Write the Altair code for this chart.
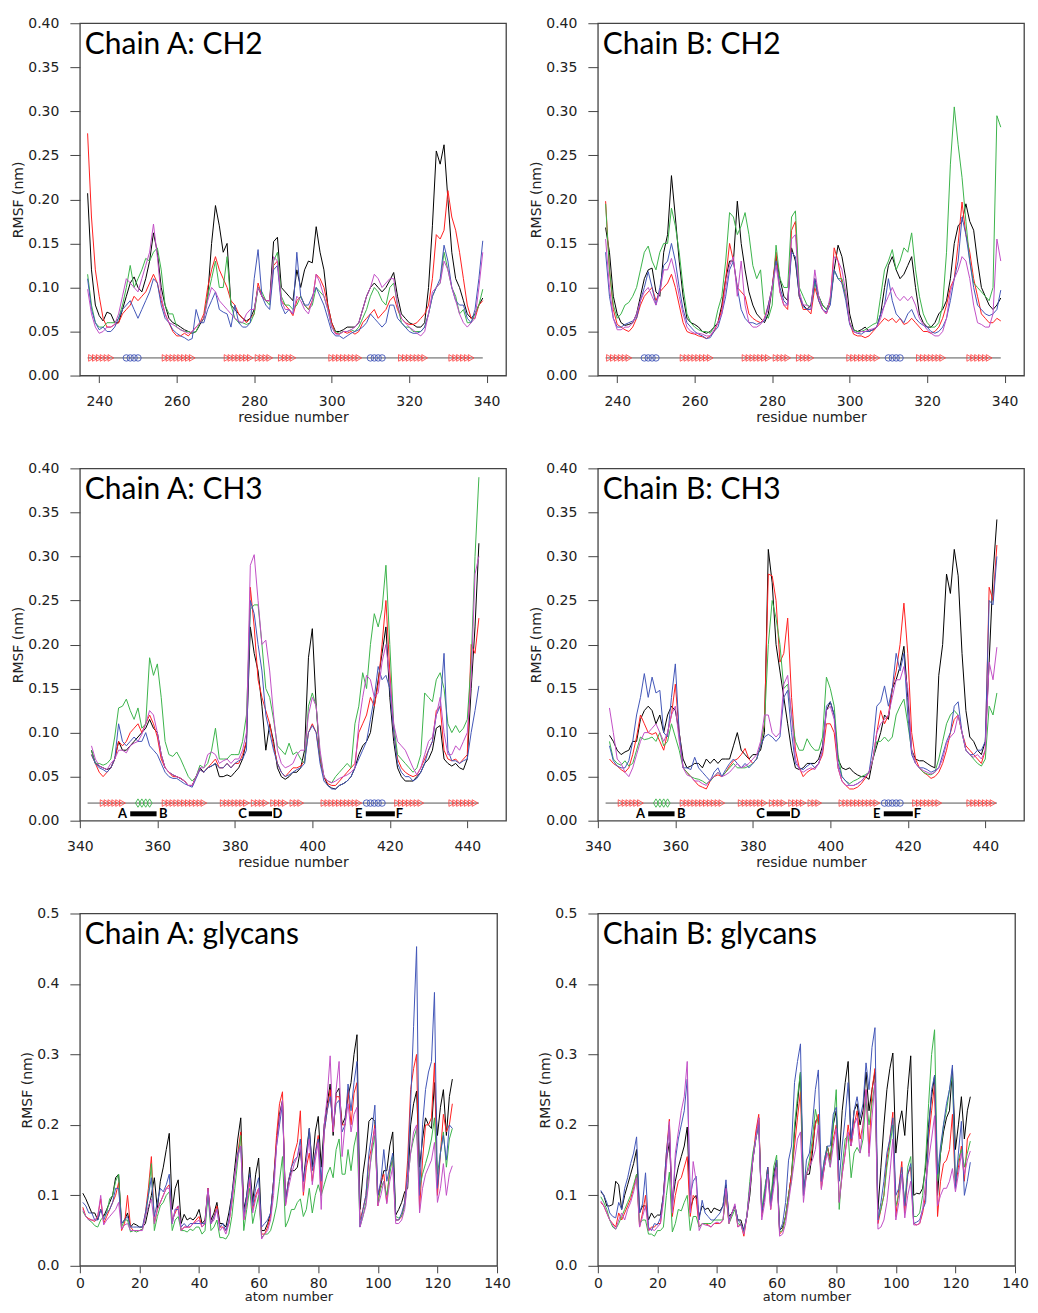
import altair as alt
import pandas as pd

SERIES = ["s1", "s2", "s3", "s4", "s5"]
COLORS = ["#000000", "#ff2020", "#3cb44b", "#4256b8", "#c24fc6"]

RES_CH2 = list(range(237, 340))
RES_CH3 = list(range(343, 444))
ATOMS = list(range(1, 126))

# RMSF values in pm (1 pm = 0.001 nm)
A_CH2_BLACK = [207,120,80,68,62,72,70,60,60,75,
               90,105,112,100,95,110,130,162,140,100,
               80,65,60,58,55,52,50,48,50,58,
               65,90,150,193,170,140,150,80,75,70,
               65,62,65,75,100,90,85,85,152,157,
               100,95,90,85,120,100,120,130,128,169,
               140,120,80,60,50,50,52,55,55,55,
               60,75,90,100,105,100,95,100,108,117,
               90,70,65,60,58,55,55,60,100,170,
               255,240,262,200,140,110,100,85,70,65,
               70,80,88]
A_CH2_RED = [275,180,120,90,65,55,55,58,60,70,
             75,80,90,85,90,95,105,115,105,85,
             70,60,50,45,45,48,45,50,55,60,
             70,100,120,135,120,110,100,85,80,70,
             65,60,65,70,105,90,85,85,125,130,
             85,80,75,68,85,90,80,75,85,115,
             110,100,80,60,48,47,50,48,50,47,
             50,60,65,70,75,65,70,75,85,90,
             75,65,60,58,58,60,65,70,80,110,
             160,155,165,210,180,165,140,110,80,65,
             65,80,85]
A_CH2_GREEN = [115,80,60,55,55,60,60,60,65,80,
               100,125,100,110,120,133,130,140,145,120,
               80,70,70,55,52,50,50,48,50,60,
               65,90,110,130,100,100,135,80,65,60,
               60,58,60,70,100,95,85,80,130,140,
               90,80,80,75,80,90,80,75,80,100,
               95,90,75,55,50,48,50,50,52,50,
               55,65,75,90,100,95,85,80,100,105,
               80,60,55,55,50,50,50,55,70,90,
               100,105,140,120,100,90,70,75,60,60,
               70,80,98]
A_CH2_BLUE = [110,75,60,52,55,50,50,55,65,75,
              80,85,75,65,75,85,95,110,105,80,
              65,60,52,48,45,43,40,42,75,60,
              60,75,85,95,75,72,70,55,80,60,
              55,55,60,110,143,90,80,75,120,125,
              80,70,75,70,140,90,80,80,90,100,
              90,80,65,50,45,45,42,45,48,50,
              52,55,60,70,65,60,55,60,80,80,
              65,60,55,50,48,48,50,55,70,90,
              100,110,148,130,100,85,80,80,65,60,
              75,110,153]
A_CH2_MAGENTA = [98,70,55,48,50,55,55,58,70,90,
                 110,105,100,95,110,125,140,172,135,90,
                 70,60,58,55,52,50,48,50,55,60,
                 65,85,100,95,85,80,75,70,65,62,
                 60,70,75,75,100,90,85,85,135,130,
                 85,75,75,70,90,85,75,70,85,115,
                 105,90,75,55,47,47,50,50,52,55,
                 60,75,90,100,115,110,100,105,110,110,
                 80,65,60,55,52,48,45,50,70,95,
                 100,105,130,120,100,85,70,60,55,60,
                 65,100,140]

B_CH2_BLACK = [168,140,90,70,60,57,58,60,70,90,
               110,120,122,95,90,140,160,227,180,130,
               90,65,60,58,55,50,48,50,55,60,
               80,110,130,130,198,150,120,95,80,70,
               65,60,70,100,135,110,90,85,145,130,
               90,80,75,80,110,90,80,75,85,120,
               148,135,110,70,52,50,52,55,50,52,
               55,70,100,125,135,120,110,115,125,135,
               100,70,60,55,55,60,70,75,85,110,
               150,170,175,195,175,165,130,100,90,80,
               75,80,88]
B_CH2_RED = [198,120,75,58,55,52,50,55,65,80,
             90,95,100,85,95,100,105,115,100,80,
             60,50,48,47,45,44,42,45,50,60,
             75,110,150,130,100,95,90,70,65,62,
             60,65,80,100,140,95,80,75,165,175,
             90,75,75,70,100,85,75,70,85,145,
             130,105,90,60,47,45,45,43,45,50,
             55,60,65,62,65,60,65,58,60,65,
             60,55,50,50,48,50,55,65,80,100,
             110,150,197,160,140,110,90,70,65,60,
             60,65,62]
B_CH2_GREEN = [195,120,80,65,70,80,83,90,100,120,
               140,147,130,120,140,150,150,190,170,140,
               100,70,60,55,52,50,50,48,55,75,
               90,130,185,180,160,170,185,160,125,110,
               120,70,65,80,148,110,100,100,180,187,
               100,90,80,78,105,90,80,75,85,120,
               110,110,90,60,52,50,50,52,55,58,
               60,90,120,130,143,120,130,145,140,162,
               120,90,70,60,55,55,60,80,140,240,
               305,262,225,175,130,105,100,95,90,85,
               100,295,282]
B_CH2_BLUE = [140,90,65,55,55,58,60,62,65,85,
              100,118,100,80,100,125,130,150,130,100,
              75,60,55,50,47,45,42,43,50,55,
              70,90,120,130,100,75,65,60,60,58,
              60,62,80,100,130,100,85,80,140,135,
              90,78,75,75,110,85,75,72,80,120,
              110,105,85,58,50,48,47,50,50,52,
              55,70,80,110,85,70,65,60,70,75,
              65,60,57,55,50,48,50,55,65,85,
              110,130,180,160,130,100,80,75,70,68,
              70,75,97]
B_CH2_MAGENTA = [155,100,65,52,52,55,55,60,70,85,
                 95,100,90,80,95,120,120,133,115,90,
                 70,55,50,48,48,47,45,45,52,60,
                 70,100,125,135,90,130,80,60,55,55,
                 58,65,75,100,125,95,80,80,155,160,
                 95,80,80,75,120,90,75,70,90,135,
                 130,120,95,60,50,48,50,50,52,53,
                 55,65,80,90,100,90,85,90,85,90,
                 80,65,58,52,48,45,45,50,65,95,
                 110,120,135,130,110,80,60,58,55,55,
                 70,155,130]

A_CH3_BLACK = [80,65,62,60,58,60,70,90,80,80,
               85,90,95,100,105,115,105,100,75,60,
               55,52,50,48,45,40,40,50,60,55,
               60,62,65,50,50,52,50,55,60,70,
               90,220,190,170,130,80,110,90,60,50,
               47,50,55,55,60,80,185,218,130,70,
               50,40,37,36,40,42,45,50,60,75,
               85,90,100,130,160,190,220,140,90,60,
               50,45,45,45,50,55,65,70,80,105,
               108,70,65,62,65,60,58,70,150,220,
               315]
A_CH3_RED = [75,65,55,50,55,60,70,90,85,90,
             100,105,110,100,110,120,110,95,70,60,
             55,50,50,48,45,40,40,50,58,55,
             60,65,70,60,60,65,60,65,65,75,
             90,265,220,160,140,125,110,85,65,55,
             50,55,60,60,62,68,100,110,100,70,
             50,42,40,40,45,50,55,60,65,100,
             110,120,140,130,155,200,250,170,100,70,
             60,55,52,50,52,60,70,80,90,125,
             130,80,70,68,70,65,70,75,200,190,
             230]
A_CH3_GREEN = [80,65,65,63,65,70,95,128,130,138,
               125,115,128,105,110,185,165,178,140,90,
               75,73,78,70,60,50,45,50,63,60,
               65,80,105,70,70,70,75,75,75,90,
               120,240,245,245,200,150,140,115,85,80,
               75,88,75,78,70,65,130,145,130,75,
               50,45,43,50,55,60,65,60,110,130,
               168,150,200,235,220,240,290,200,110,75,
               70,65,60,55,60,75,145,140,135,160,
               168,150,110,100,108,100,105,115,180,300,
               390]
A_CH3_BLUE = [75,65,60,58,55,60,70,110,90,85,
              90,95,90,90,100,85,80,75,65,55,
              50,48,48,45,42,40,38,48,58,55,
              60,62,65,60,60,65,60,65,68,70,
              80,250,235,200,170,120,100,80,65,55,
              50,52,55,58,60,65,100,108,100,65,
              45,40,36,36,40,42,45,50,60,70,
              80,90,115,140,175,160,165,150,100,65,
              55,50,50,45,48,55,65,80,90,120,
              130,190,80,68,68,65,68,70,100,125,
              153]
A_CH3_MAGENTA = [85,70,62,60,58,65,70,80,80,77,
                 85,88,90,98,110,125,120,100,75,60,
                 55,52,50,48,45,40,40,50,60,60,
                 75,78,75,65,68,70,65,70,70,80,
                 100,290,302,250,200,205,170,120,80,65,
                 60,62,65,75,80,80,120,140,130,80,
                 50,45,43,45,48,50,52,55,60,110,
                 140,165,160,140,145,180,200,160,110,90,
                 85,80,70,60,52,60,75,90,95,120,
                 140,100,75,75,85,80,90,100,160,280,
                 300]

B_CH3_BLACK = [97,90,80,75,78,80,90,90,115,125,
               130,125,110,120,100,120,130,125,100,70,
               60,62,65,65,60,70,65,70,65,70,
               70,70,85,100,80,75,70,75,75,80,
               100,308,270,200,170,140,110,80,60,58,
               60,65,65,65,70,85,125,135,120,70,
               60,58,60,55,52,50,50,47,70,85,
               100,120,115,150,160,175,198,140,80,70,
               68,68,65,62,60,165,200,280,258,308,
               278,190,125,95,90,80,75,90,180,280,
               342]
B_CH3_RED = [70,65,62,58,55,60,75,95,120,110,
             100,98,100,90,80,100,120,155,100,60,
             55,50,45,40,38,36,45,50,52,50,
             55,62,68,70,75,82,70,65,70,85,
             110,280,278,250,180,190,230,140,80,60,
             50,55,58,60,65,75,110,110,100,60,
             45,40,36,36,38,42,48,55,70,100,
             125,110,120,150,170,200,247,190,100,70,
             60,55,52,48,50,55,65,80,100,115,
             120,100,85,80,75,70,65,80,265,250,
             313]
B_CH3_GREEN = [90,70,65,63,68,62,65,80,95,92,
               93,95,90,100,85,90,110,95,80,60,
               55,50,48,47,45,42,45,50,55,50,
               55,60,65,60,60,60,62,65,70,85,
               110,200,250,230,200,150,155,120,90,80,
               80,93,85,80,80,95,163,150,130,75,
               50,45,42,45,47,50,52,55,70,90,
               90,95,90,95,120,130,138,110,80,65,
               60,55,53,52,55,70,90,110,120,125,
               120,100,80,75,70,65,62,70,130,120,
               145]
B_CH3_BLUE = [85,68,62,60,60,68,90,120,140,167,
              140,163,145,148,100,95,140,178,100,60,
              60,58,72,60,55,50,45,55,60,50,
              58,65,70,65,60,65,60,65,70,85,
              95,98,95,90,95,140,148,100,65,60,
              58,62,65,60,65,80,130,135,120,65,
              50,45,40,40,42,45,50,55,85,130,
              135,153,130,150,190,170,190,120,75,65,
              60,60,58,55,57,60,75,90,100,130,
              135,100,80,75,75,80,80,90,250,245,
              300]
B_CH3_MAGENTA = [128,100,70,65,55,50,60,75,90,100,
                 100,105,110,100,90,100,120,130,90,60,
                 52,50,45,45,42,40,47,50,55,50,
                 52,55,60,65,60,62,65,70,75,90,
                 120,120,100,95,100,155,165,120,70,58,
                 55,58,60,58,65,80,125,130,115,60,
                 45,40,40,40,42,45,50,55,70,100,
                 110,115,120,140,160,160,175,150,80,65,
                 60,57,55,53,55,60,70,88,95,100,
                 120,100,80,75,72,75,70,80,180,160,
                 197]

A_GLY_BLACK = [103,95,85,75,75,65,80,70,80,90,
               100,125,130,60,65,75,55,60,58,55,
               55,60,80,100,125,80,120,140,165,188,
               80,110,122,60,73,65,68,65,70,80,
               60,65,110,65,75,90,60,60,55,75,
               100,140,180,210,80,100,140,90,130,153,
               50,50,60,75,120,175,215,235,90,120,
               135,135,140,165,120,160,195,140,190,212,
               140,200,230,258,185,245,252,200,210,240,
               260,300,328,80,130,160,205,210,205,100,
               115,135,135,170,190,72,80,90,105,110,
               200,230,248,140,180,210,200,195,260,185,
               225,250,185,240,265]
A_GLY_RED = [83,70,67,65,63,70,95,60,70,80,
             90,100,118,50,60,100,55,50,50,50,
             52,75,110,155,60,80,90,100,110,115,
             65,75,85,50,55,55,55,60,65,70,
             55,60,110,60,70,85,55,55,50,60,
             90,130,160,190,65,90,120,80,100,110,
             45,45,55,70,120,185,230,247,85,120,
             140,160,175,220,100,140,160,120,160,185,
             100,190,220,250,190,240,240,200,200,250,
             200,245,260,65,80,100,150,170,200,85,
             120,130,90,140,150,65,65,70,90,150,
             250,280,300,80,150,200,200,210,288,100,
             160,215,190,200,230]
A_GLY_GREEN = [77,70,65,62,57,55,65,70,75,95,
               100,120,130,55,65,65,48,50,48,50,
               52,70,100,145,50,70,85,90,100,105,
               50,65,70,50,50,48,52,50,55,55,
               45,50,100,50,55,65,40,40,38,45,
               70,110,150,185,50,80,110,60,80,100,
               40,45,45,50,65,85,120,155,55,65,
               80,80,90,95,70,80,110,75,100,115,
               100,115,130,140,125,165,180,130,130,165,
               135,170,190,55,70,90,130,160,185,90,
               110,120,100,130,155,70,68,70,85,120,
               160,180,195,110,130,145,160,180,210,130,
               160,190,140,180,195]
A_GLY_BLUE = [90,85,75,75,65,65,80,65,75,80,
              90,110,110,60,65,70,55,55,55,55,
              55,75,100,125,70,90,110,105,115,130,
              60,80,80,55,60,55,60,60,60,60,
              60,60,105,60,70,80,55,60,50,65,
              100,130,160,170,70,100,130,85,110,125,
              55,60,65,75,120,170,200,230,90,120,
              140,150,155,180,120,150,195,135,160,180,
              120,190,220,240,200,230,235,190,200,258,
              220,260,290,55,80,100,160,190,228,100,
              120,165,120,140,160,65,65,75,90,130,
              230,340,453,100,200,250,275,290,388,110,
              160,185,150,200,195]
A_GLY_MAGENTA = [80,70,65,65,65,70,100,58,65,70,
                 75,80,90,52,58,60,50,50,50,50,
                 50,70,85,95,60,80,90,100,110,110,
                 60,80,85,50,55,55,55,60,62,65,
                 55,60,110,60,65,80,50,55,45,60,
                 90,130,155,170,65,90,125,75,95,110,
                 38,45,50,65,100,170,210,235,85,110,
                 130,145,155,170,105,150,180,115,150,175,
                 80,200,240,298,190,250,290,155,200,230,
                 190,215,225,55,70,85,120,170,195,85,
                 100,120,88,120,140,60,60,65,80,120,
                 160,190,200,75,110,130,140,150,175,90,
                 110,145,100,130,142]

B_GLY_BLACK = [105,100,85,85,87,120,115,80,100,115,
               130,145,165,75,85,85,65,75,68,72,
               72,100,150,175,90,120,140,155,170,197,
               80,95,100,70,85,80,82,75,82,80,
               78,85,115,70,75,85,65,65,50,70,
               100,150,180,210,75,100,140,90,130,150,
               50,55,70,100,130,190,230,275,110,130,
               130,160,205,210,120,140,170,150,200,220,
               150,220,260,290,170,220,230,200,220,275,
               220,250,275,80,140,200,250,280,302,160,
               200,220,185,250,298,100,103,102,110,140,
               200,240,270,100,160,190,210,220,280,165,
               200,240,180,220,240]
B_GLY_RED = [90,85,75,65,60,55,75,65,75,85,
             95,110,130,55,75,100,50,55,55,60,
             60,100,160,208,70,100,120,125,140,155,
             70,100,95,55,60,60,58,55,60,60,
             60,65,100,60,75,85,55,60,42,70,
             110,150,190,215,70,100,140,80,120,150,
             45,50,70,100,130,170,210,247,100,130,
             140,170,200,215,110,140,170,150,180,200,
             90,130,160,200,170,200,220,180,200,250,
             160,250,280,60,80,100,150,180,218,70,
             110,148,75,130,140,60,58,60,75,100,
             180,220,258,70,120,145,150,165,215,110,
             140,170,120,180,188]
B_GLY_GREEN = [98,90,80,65,55,52,60,70,80,90,
               100,115,130,60,65,65,45,45,42,50,
               50,55,100,133,48,60,80,78,90,100,
               50,70,70,55,60,60,60,60,65,65,
               65,65,105,60,70,80,60,58,48,70,
               120,160,180,200,80,110,135,90,140,157,
               48,50,70,100,120,200,240,275,100,130,
               150,180,222,200,120,150,170,140,200,250,
               80,140,180,185,125,160,168,160,180,240,
               200,230,260,65,80,100,140,170,200,85,
               100,130,90,140,155,70,70,75,100,150,
               230,300,335,120,160,200,220,250,270,120,
               150,165,140,160,177]
B_GLY_BLUE = [107,100,90,75,70,68,90,80,110,125,
              145,160,183,75,88,132,55,50,60,58,
              68,100,160,200,80,150,180,200,220,265,
              100,120,127,65,93,75,70,65,65,70,
              75,85,122,65,75,85,65,60,50,70,
              110,150,180,200,75,100,140,85,120,150,
              50,60,90,150,170,260,290,315,100,150,
              160,200,250,278,120,150,170,170,215,225,
              120,170,210,260,180,220,240,210,230,288,
              250,310,338,65,90,120,160,180,210,100,
              110,140,85,130,145,60,62,65,80,90,
              190,250,270,130,170,200,230,250,285,110,
              160,205,100,120,147]
B_GLY_MAGENTA = [92,85,75,65,58,52,65,75,65,80,
                 90,105,125,55,70,85,50,52,50,55,
                 60,90,140,205,75,160,190,220,240,290,
                 75,148,120,50,60,58,57,55,60,62,
                 60,65,110,60,75,88,55,58,45,70,
                 110,150,180,210,65,90,130,80,110,140,
                 42,45,60,90,120,150,180,190,90,130,
                 140,150,165,200,108,140,160,140,170,195,
                 90,130,160,190,170,200,210,160,200,250,
                 155,210,260,52,55,65,90,130,180,65,
                 90,130,68,100,120,58,58,60,80,120,
                 150,180,213,85,100,110,110,120,138,105,
                 130,160,130,150,163]

# secondary structure (residue ranges)
SS_Y = 0.02
CH2_SPAN = [237, 339]
CH2_STRANDS = [(238, 243), (257, 264), (273, 279), (281, 284), (287, 290),
               (300, 307), (318, 324), (331, 336)]
CH2_HELICES = [(247, 250), (310, 313)]
CH3_SPAN = [342, 443]
CH3_STRANDS = [(346, 351), (362, 372), (377, 383), (385, 388), (390, 393),
               (395, 397), (403, 412), (422, 428), (436, 442)]
CH3_HELICES = [(414, 418)]
CH3_DIAMONDS = [(355, 358)]
LOOP_Y = 0.0078
LOOP_LABELS = ["A", "B", "C", "D", "E", "F"]
LOOP_LABEL_X = [351.0, 361.5, 382.0, 391.0, 412.0, 422.5]
LOOP_BAR_START = [353.0, 383.6, 413.8]
LOOP_BAR_END = [359.8, 389.6, 421.3]

CH2_TICKS = [240, 260, 280, 300, 320, 340]
CH3_TICKS = [340, 360, 380, 400, 420, 440]
GLY_TICKS = [0, 20, 40, 60, 80, 100, 120, 140]
RES_Y_TICKS = [0.0, 0.05, 0.10, 0.15, 0.20, 0.25, 0.30, 0.35, 0.40]
GLY_Y_TICKS = [0.0, 0.1, 0.2, 0.3, 0.4, 0.5]

W, H = 427, 353
W_GLY = 418
RED_SS = "#ff3b3b"
BLUE_SS = "#4256b8"
GREEN_SS = "#3cb44b"


def expand(ranges):
    return [r for a, b in ranges for r in range(a, b + 1)]


def panel(xs, series_vals, title, xdom, xticks, xtitle, ydom, yticks, yfmt,
          ss=None, last_row=False, width=W):
    if last_row:
        xaxis = alt.Axis(values=xticks, format="d", title=xtitle, tickSize=7,
                         labelPadding=4, titlePadding=0, labelFlush=False,
                         titleFontSize=13)
    else:
        xaxis = alt.Axis(values=xticks, format="d", title=xtitle, tickSize=7,
                         labelPadding=12, titlePadding=2, labelFlush=False)
    X = alt.X("x:Q", scale=alt.Scale(domain=xdom, nice=False, zero=False), axis=xaxis)
    Y = alt.Y("v:Q", scale=alt.Scale(domain=ydom, nice=False, zero=False),
              axis=alt.Axis(values=yticks, format=yfmt, title="RMSF (nm)",
                            tickSize=10, labelPadding=11, titlePadding=2,
                            labelFlush=False))
    layers = []
    if ss is not None:
        span, strands, helices, diamonds, loops = ss
        track = pd.DataFrame({"x": [span[0]], "x2": [span[1]], "v": [SS_Y]})
        layers.append(alt.Chart(track).mark_rule(color="#555555", strokeWidth=1)
                      .encode(x=X, x2="x2:Q", y=Y))
        st = pd.DataFrame({"x": expand(strands)})
        st["v"] = SS_Y
        layers.append(alt.Chart(st).mark_point(shape="triangle-right", filled=False,
                                               color=RED_SS, size=44, strokeWidth=0.8,
                                               opacity=1)
                      .encode(x=X, y=Y))
        he = pd.DataFrame({"x": expand(helices)})
        he["v"] = SS_Y
        layers.append(alt.Chart(he).mark_point(shape="circle", filled=False,
                                               color=BLUE_SS, size=42, strokeWidth=0.9,
                                               opacity=1)
                      .encode(x=X, y=Y))
        if diamonds:
            di = pd.DataFrame({"x": expand(diamonds)})
            di["v"] = SS_Y
            layers.append(alt.Chart(di).mark_point(shape="M0,-1L0.6,0L0,1L-0.6,0Z",
                                                   filled=False, color=GREEN_SS,
                                                   size=70, strokeWidth=0.9, opacity=1)
                          .encode(x=X, y=Y))
        if loops:
            bars = pd.DataFrame({"x": LOOP_BAR_START, "x2": LOOP_BAR_END})
            bars["v"] = LOOP_Y
            layers.append(alt.Chart(bars).mark_rule(color="black", strokeWidth=5,
                                                    strokeCap="butt")
                          .encode(x=X, x2="x2:Q", y=Y))
            lab = pd.DataFrame({"x": LOOP_LABEL_X, "t": LOOP_LABELS})
            lab["v"] = LOOP_Y
            layers.append(alt.Chart(lab).mark_text(font="Lato", fontWeight="bold",
                                                   fontSize=13, color="black")
                          .encode(x=X, y=Y, text="t:N"))
    rows = []
    for name, vals in zip(SERIES, series_vals):
        for xv, pm in zip(xs, vals):
            rows.append({"x": xv, "v": pm / 1000.0, "s": name})
    df = pd.DataFrame(rows)
    for name, col in zip(SERIES, COLORS):
        layers.append(alt.Chart(df[df["s"] == name]).mark_line(
            strokeWidth=1, clip=True, color=col).encode(x=X, y=Y))
    tdf = pd.DataFrame({"t": [title]})
    layers.append(alt.Chart(tdf).mark_text(align="left", baseline="alphabetic",
                                           font="Lato", fontSize=30, color="black")
                  .encode(x=alt.value(5), y=alt.value(31), text="t:N"))
    return alt.layer(*layers).properties(width=width, height=H)


ch2_ss = (CH2_SPAN, CH2_STRANDS, CH2_HELICES, [], False)
ch3_ss = (CH3_SPAN, CH3_STRANDS, CH3_HELICES, CH3_DIAMONDS, True)

p1 = panel(RES_CH2, [A_CH2_BLACK, A_CH2_RED, A_CH2_GREEN, A_CH2_BLUE, A_CH2_MAGENTA],
           "Chain A: CH2", [235, 345], CH2_TICKS, "residue number",
           [0, 0.4], RES_Y_TICKS, ".2f", ch2_ss)
p2 = panel(RES_CH2, [B_CH2_BLACK, B_CH2_RED, B_CH2_GREEN, B_CH2_BLUE, B_CH2_MAGENTA],
           "Chain B: CH2", [235, 345], CH2_TICKS, "residue number",
           [0, 0.4], RES_Y_TICKS, ".2f", ch2_ss)
p3 = panel(RES_CH3, [A_CH3_BLACK, A_CH3_RED, A_CH3_GREEN, A_CH3_BLUE, A_CH3_MAGENTA],
           "Chain A: CH3", [340, 450], CH3_TICKS, "residue number",
           [0, 0.4], RES_Y_TICKS, ".2f", ch3_ss)
p4 = panel(RES_CH3, [B_CH3_BLACK, B_CH3_RED, B_CH3_GREEN, B_CH3_BLUE, B_CH3_MAGENTA],
           "Chain B: CH3", [340, 450], CH3_TICKS, "residue number",
           [0, 0.4], RES_Y_TICKS, ".2f", ch3_ss)
p5 = panel(ATOMS, [A_GLY_BLACK, A_GLY_RED, A_GLY_GREEN, A_GLY_BLUE, A_GLY_MAGENTA],
           "Chain A: glycans", [0, 140], GLY_TICKS, "atom number",
           [0, 0.5], GLY_Y_TICKS, ".1f", last_row=True, width=W_GLY)
p6 = panel(ATOMS, [B_GLY_BLACK, B_GLY_RED, B_GLY_GREEN, B_GLY_BLUE, B_GLY_MAGENTA],
           "Chain B: glycans", [0, 140], GLY_TICKS, "atom number",
           [0, 0.5], GLY_Y_TICKS, ".1f", last_row=True, width=W_GLY)

row1 = alt.hconcat(p1, p2, spacing=22)
row2 = alt.hconcat(p3, p4, spacing=22)
row3 = alt.hconcat(p5, p6, spacing=26)

chart = alt.vconcat(row1, row2, row3, spacing=35).configure_view(
    stroke="#444444", strokeWidth=1.3
).configure_axis(
    domain=False, grid=False, tickColor="#444444", tickWidth=1,
    labelFont="DejaVu Sans", labelFontSize=14, labelColor="#222222",
    titleFont="DejaVu Sans", titleFontSize=14, titleFontWeight="normal",
    titleColor="#222222"
).properties(padding={"left": 3, "top": 6, "right": 0, "bottom": 0})

chart.save("out.html", embed_options={"renderer": "svg", "actions": False})
